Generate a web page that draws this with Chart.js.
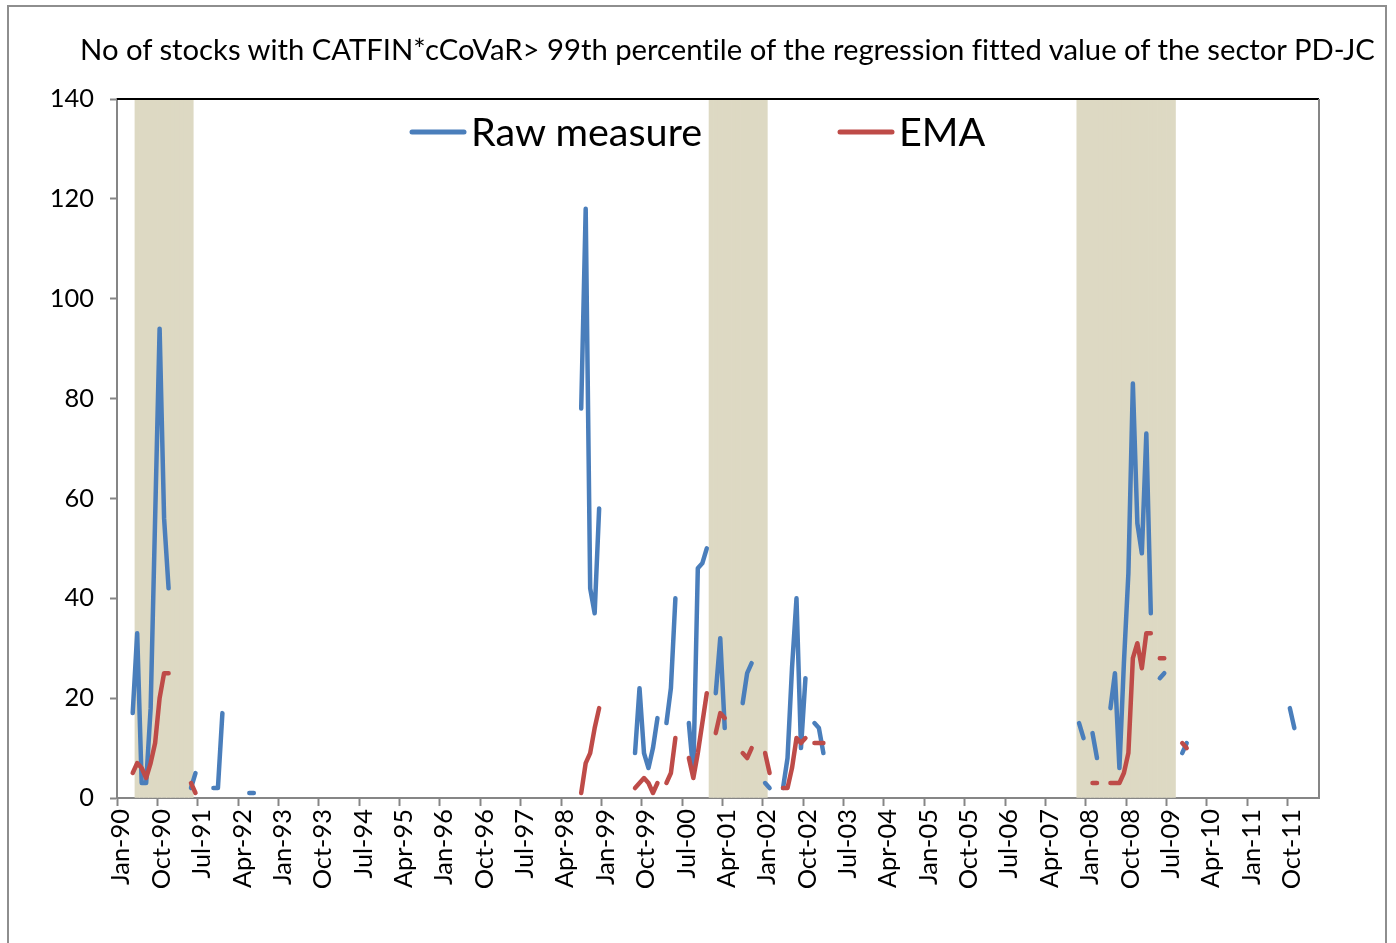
<!DOCTYPE html>
<html>
<head>
<meta charset="utf-8">
<script src="https://cdn.jsdelivr.net/npm/chart.js@4.4.1/dist/chart.umd.min.js"></script>
<style>
  html, body { margin: 0; padding: 0; background: #fff; }
  body { width: 1396px; height: 943px; position: relative; overflow: hidden; }
  #frame { position: absolute; left: 7px; top: 5px; width: 1380px; height: 960px; border: 2px solid #8e8e8e; box-sizing: border-box; }
  #chart { position: absolute; left: 0; top: 0; }
  .txt { position: absolute; white-space: nowrap; color: #000; font-family: Lato, sans-serif; font-variant-ligatures: none; font-feature-settings: "liga" 0, "clig" 0; }
</style>
</head>
<body>
<div id="frame"></div>
<canvas id="chart" width="1396" height="943"></canvas>
<div id="title" class="txt"></div>
<div id="legRaw" class="txt"></div>
<div id="legEma" class="txt"></div>
<script>
const FONT = 'Lato';
const BLUE = '#4A7EBB';
const RED = '#BE4B48';
const BAND = '#DDD9C3';
const AXIS = '#868686';

const titleText = 'No of stocks with CATFIN*cCoVaR> 99th percentile of the regression fitted value of the sector PD-JC';
const seriesNames = ['Raw measure', 'EMA'];

// monthly categories Jan-90 .. Apr-12
const monthNames = ['Jan','Feb','Mar','Apr','May','Jun','Jul','Aug','Sep','Oct','Nov','Dec'];
const firstYear = 1990;
const monthCount = 268;
const labelEvery = 9;
const months = [];
for (let i = 0; i < monthCount; i++) {
  const yy = (firstYear + Math.floor(i / 12)) % 100;
  months.push(monthNames[i % 12] + '-' + String(yy).padStart(2, '0'));
}

const yMax = 140;
const yStep = 20;

// recession bands (first month, last month)
const recessions = [['May-90', 'May-91'], ['Jan-01', 'Jan-02'], ['Nov-07', 'Aug-09']];

// series, as runs of consecutive months [first month, values]
const rawSegments = [
  ['Apr-90', [17, 33, 3, 3, 18, 56, 94, 56, 42]],
  ['May-91', [2, 5]],
  ['Oct-91', [2, 2, 17]],
  ['Jun-92', [1, 1]],
  ['Aug-98', [78, 118, 42, 37, 58]],
  ['Aug-99', [9, 22, 9, 6, 10, 16]],
  ['Mar-00', [15, 22, 40]],
  ['Aug-00', [15, 5, 46, 47, 50]],
  ['Feb-01', [21, 32, 14]],
  ['Aug-01', [19, 25, 27]],
  ['Jan-02', [3, 2]],
  ['May-02', [2, 8, 26, 40, 10, 24]],
  ['Dec-02', [15, 14, 9]],
  ['Nov-07', [15, 12]],
  ['Feb-08', [13, 8]],
  ['Jun-08', [18, 25, 6, 27, 45, 83, 55, 49, 73, 37]],
  ['May-09', [24, 25]],
  ['Oct-09', [9, 11]],
  ['Oct-11', [18, 14]]
];

const emaSegments = [
  ['Apr-90', [5, 7, 6, 4, 7, 11, 20, 25, 25]],
  ['May-91', [3, 1]],
  ['Aug-98', [1, 7, 9, 14, 18]],
  ['Aug-99', [2, 3, 4, 3, 1, 3]],
  ['Mar-00', [3, 5, 12]],
  ['Aug-00', [8, 4, 9, 15, 21]],
  ['Feb-01', [13, 17, 16]],
  ['Aug-01', [9, 8, 10]],
  ['Jan-02', [9, 5]],
  ['May-02', [2, 2, 6, 12, 11, 12]],
  ['Dec-02', [11, 11, 11]],
  ['Feb-08', [3, 3]],
  ['Jun-08', [3, 3, 3, 5, 9, 28, 31, 26, 33, 33]],
  ['May-09', [28, 28]],
  ['Oct-09', [11, 10]]
];

function expand(segments) {
  const out = new Array(months.length).fill(null);
  segments.forEach(([start, vals]) => {
    const i0 = months.indexOf(start);
    vals.forEach((v, j) => { out[i0 + j] = v; });
  });
  return out;
}

function bandData() {
  const out = new Array(months.length).fill(null);
  recessions.forEach(([a, b]) => {
    for (let i = months.indexOf(a); i <= months.indexOf(b); i++) out[i] = yMax;
  });
  return out;
}

// font size that makes text span a given width
const meas = document.createElement('canvas').getContext('2d');
function fitSize(text, width) {
  meas.font = '100px ' + FONT;
  return 100 * width / meas.measureText(text).width;
}

// put an html text line with its left edge and baseline at given spot
function placeText(id, text, left, baseline, size) {
  const el = document.getElementById(id);
  meas.font = size + 'px ' + FONT;
  const m = meas.measureText(text);
  const asc = m.fontBoundingBoxAscent, desc = m.fontBoundingBoxDescent;
  el.textContent = text;
  el.style.fontSize = size + 'px';
  el.style.lineHeight = (asc + desc) + 'px';
  el.style.left = left + 'px';
  el.style.top = (baseline - asc) + 'px';
}

const legendSize = fitSize(seriesNames[0], 232);
placeText('title', titleText, 80, 60, fitSize(titleText, 1298));
placeText('legRaw', seriesNames[0], 471, 146, legendSize);
placeText('legEma', seriesNames[1], 899, 146, legendSize);

const tickSize = Math.min(26, fitSize('Jan-90', 76));

const overlay = {
  id: 'overlay',
  afterDraw(chart) {
    const c = chart.ctx;
    const a = chart.chartArea;
    c.save();
    // plot frame top / right
    c.lineWidth = 2;
    c.strokeStyle = '#000';
    c.beginPath(); c.moveTo(a.left, a.top); c.lineTo(a.right, a.top); c.stroke();
    c.strokeStyle = AXIS;
    c.beginPath(); c.moveTo(a.right, a.top); c.lineTo(a.right, a.bottom); c.stroke();

    // legend keys
    [[BLUE, 412], [RED, 840]].forEach(([col, lx]) => {
      c.strokeStyle = col;
      c.lineWidth = 5;
      c.lineCap = 'round';
      c.beginPath(); c.moveTo(lx, 132); c.lineTo(lx + 52, 132); c.stroke();
    });
    c.restore();
  }
};

const lineStyle = {
  borderWidth: 4.5,
  pointRadius: 0,
  pointHoverRadius: 0,
  spanGaps: false,
  tension: 0,
  borderCapStyle: 'round',
  borderJoinStyle: 'round',
  fill: false
};

new Chart(document.getElementById('chart'), {
  type: 'line',
  data: {
    labels: months,
    datasets: [
      Object.assign({ label: seriesNames[1], data: expand(emaSegments), borderColor: RED, order: 0 }, lineStyle),
      Object.assign({ label: seriesNames[0], data: expand(rawSegments), borderColor: BLUE, order: 1 }, lineStyle),
      {
        type: 'bar',
        label: 'Recession',
        data: bandData(),
        backgroundColor: BAND,
        borderWidth: 0,
        barPercentage: 1,
        categoryPercentage: 1,
        order: 2
      }
    ]
  },
  options: {
    responsive: false,
    animation: false,
    devicePixelRatio: 1,
    layout: { padding: { top: 99, right: 77, left: 0, bottom: 0 } },
    plugins: {
      legend: { display: false },
      title: { display: false },
      tooltip: { enabled: false }
    },
    scales: {
      x: {
        type: 'category',
        offset: true,
        grid: {
          offset: true,
          drawOnChartArea: false,
          tickLength: 8,
          tickWidth: 2,
          tickColor: ctx => (ctx.index % labelEvery === 0 ? AXIS : 'rgba(0,0,0,0)')
        },
        border: { color: AXIS, width: 2 },
        ticks: {
          autoSkip: false,
          maxRotation: 90,
          minRotation: 90,
          color: '#000',
          padding: 3,
          labelOffset: 2,
          font: { family: FONT, size: tickSize },
          callback: (v, i) => (i % labelEvery === 0 ? months[i] : '')
        },
        afterFit: s => { s.height = 145; }
      },
      y: {
        min: 0,
        max: yMax,
        grid: { drawOnChartArea: false, tickLength: 7, tickWidth: 2, tickColor: AXIS },
        border: { color: AXIS, width: 2 },
        ticks: {
          stepSize: yStep,
          color: '#000',
          padding: 16,
          font: { family: FONT, size: tickSize }
        },
        afterFit: s => { s.width = 117; }
      }
    }
  },
  plugins: [overlay]
});
</script>
</body>
</html>
